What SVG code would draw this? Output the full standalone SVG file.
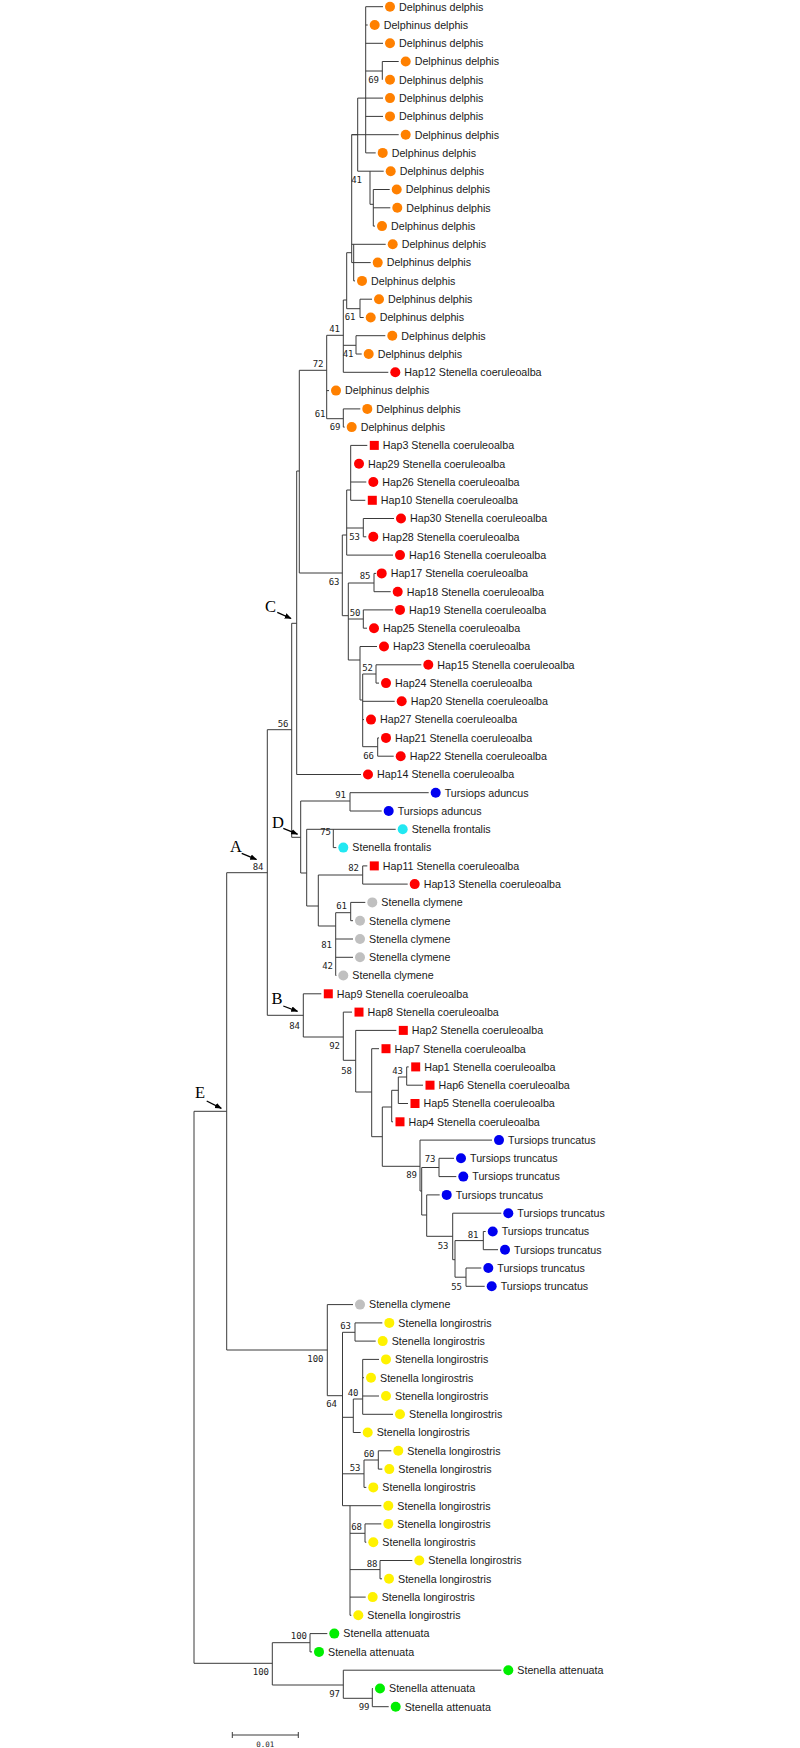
<svg xmlns="http://www.w3.org/2000/svg" width="800" height="1748" viewBox="0 0 800 1748">
<defs>
<marker id="ah" viewBox="0 0 10 10" refX="9" refY="5" markerWidth="7" markerHeight="7" orient="auto" markerUnits="userSpaceOnUse"><path d="M0,1 L10,5 L0,9 z" fill="#000"/></marker>
</defs>
<style>
.br{fill:none;stroke:#3a3a3a;stroke-width:1}
.tips text{font-family:"Liberation Sans",Arial,sans-serif;font-size:10.7px;fill:#1a1a1a}
.bs text{font-family:"DejaVu Sans Mono","Liberation Mono",monospace;font-size:9px;fill:#222;text-anchor:end}
.cl text{font-family:"Liberation Serif","Times New Roman",serif;font-size:16.5px;fill:#000}
.ar{stroke:#000;stroke-width:1.3;marker-end:url(#ah)}
.o{fill:#FF8000}.r{fill:#FF0000}.b{fill:#0000F0}.c{fill:#22E8F2}.g{fill:#C0C0C0}.y{fill:#FFF200}.gr{fill:#00EE00}
</style>
<rect width="800" height="1748" fill="#fff"/>
<g id="branches" class="br">
<path d="M365.7 6.7V152.9M382.3 61.5V79.8M365.7 71H382.3M357.7 98.1V171.2M370 171.2V204.3M370 204.3H373.3M373.3 189.5V226.1M351.7 134.7H357.7M351.7 134.7V262.6M353.7 244.3V280.9M346.7 252.7V308.7M346.7 252.7H351.7M346.7 308.7H360M360 299.2V317.5M343.3 300V372.3M343.3 300H346.7M343.3 345.3H356M356 335.7V354M326.7 335.3H343.3M326.7 335.3V418.7M326.7 418.7H343.3M343.3 408.9V427.1M299.3 370.3H326.7M299.3 370.3V573M299.3 573H342.3"/>
<path d="M350.7 445.4V500.3M346.7 490H350.7M346.7 490V555.1M346.7 528H363.3M363.3 518.5V536.8M342.3 535V615.7M342.3 535H346.7M342.3 615.7H348.3M348.3 583V660M348.3 583H374M374 573.4V591.7M348.3 619H363.3M363.3 609.9V628.2M348.3 660H360M360 646.5V700M360 700H362.7M362.7 674V746.7M362.7 674H376M376 664.8V683.1M362.7 746.7H377.7M377.7 737.9V756.2"/>
<path d="M296.7 471H299.3M296.7 471V774.5M291.7 623.3H296.7M291.7 623.3V837.3M267.3 729.7H291.7M291.7 837.3H300.7M300.7 801V873M300.7 801H350M350 792.7V811M300.7 873H306.7M306.7 829.3V906M333.3 829.3V847.6M306.7 906H318.3M318.3 875V926M318.3 875H362.7M362.7 865.9V884.1M318.3 926H335.7M335.7 912.7V975.5M335.7 912.7H350.7M350.7 902.4V920.7"/>
<path d="M267.3 729.7V1015.3M267.3 1015.3H303.3M226.7 872.7H267.3M303.3 993.8V1037M303.3 1037H343.3M343.3 1012.1V1060.3M343.3 1060.3H355.7M355.7 1030.4V1092M355.7 1092H371.7M371.7 1048.7V1136.7M371.7 1136.7H382.3M382.3 1107V1166.3M382.3 1107H391.7M391.7 1090.3V1121.8M391.7 1090.3H398.3M398.3 1077V1103.5M398.3 1077H406.7M406.7 1066.9V1085.2M382.3 1166.3H420M420 1140.1V1191M420 1191H421.7M421.7 1167.5V1215M421.7 1167.5H439M439 1158.3V1176.6M421.7 1215H426.7M426.7 1194.9V1236.3M426.7 1236.3H452.7M452.7 1213.2V1259.7M452.7 1259.7H455M455 1240.6V1277.2M455 1240.6H483.3M483.3 1231.5V1249.7M455 1277.2H466M466 1268V1286.3"/>
<path d="M226.7 872.7V1350M194 1111.3H226.7M226.7 1350H327.3M327.3 1304.6V1395.7M327.3 1395.7H342.5M342.5 1332.3V1505.7M342.5 1332.3H355M355 1322.9V1341.1M342.5 1417.3H353.3M353.3 1399V1432.5M353.3 1399H362.7M362.7 1359.4V1414.3M342.5 1473.8H364M364 1460V1487.4M364 1460H378.3M378.3 1450.8V1469.1M342.5 1505.7H350M350 1505.7V1615.3M350 1533.3H365M365 1523.9V1542.2M350 1569.6H380M380 1560.5V1578.8M194 1111.3V1663.3M194 1663.3H272.3M272.3 1642.7V1685M272.3 1642.7H310M310 1633.6V1651.9M272.3 1685H343.3M343.3 1670.2V1698.3M343.3 1698.3H372.3M372.3 1688.5V1706.7"/>
<path d="M365.7 6.7H383M365.7 25H367.7M365.7 43.3H383M382.3 61.5H398.7M357.7 98.1H383M365.7 116.4H383M351.7 134.7H398.7M365.7 152.9H375.7M357.7 171.2H383.7M373.3 189.5H389.7M373.3 207.8H390.3M373.3 226.1H375M351.7 244.3H385.7M351.7 262.6H370.7M353.7 280.9H355M360 299.2H372M360 317.5H363.7M356 335.7H385.3M356 354H361.7M343.3 372.3H388.3M326.7 390.6H329M343.3 408.9H360.3M343.3 427.1H344.7M350.7 445.4H367.3M350.7 482H366.3M350.7 500.3H365.3M363.3 518.5H394M363.3 536.8H366.3M346.7 555.1H393M374 573.4H376M374 591.7H390.7M363.3 609.9H393M363.3 628.2H367M360 646.5H377M376 664.8H421.3M376 683.1H379M362.7 701.3H394.7M362.7 719.6H364M377.7 737.9H379M377.7 756.2H393.7M296.7 774.5H361M350 792.7H428.7M350 811H381.7M306.7 829.3H395.7M333.3 847.6H336.3M362.7 865.9H367.3M362.7 884.1H407.7M350.7 902.4H365.3M350.7 920.7H353M335.7 939H353M335.7 957.3H353M335.7 975.5H336.3M303.3 993.8H321.3M343.3 1012.1H352M355.7 1030.4H396.3M371.7 1048.7H379M406.7 1066.9H408.7M406.7 1085.2H423M398.3 1103.5H408M391.7 1121.8H393M420 1140.1H492M439 1158.3H454M439 1176.6H456.3M426.7 1194.9H439.7M452.7 1213.2H501.3M483.3 1231.5H485.7M483.3 1249.7H498M466 1268H481.3M466 1286.3H484.7M327.3 1304.6H353M355 1322.9H382.3M355 1341.1H375.7M362.7 1359.4H379M362.7 1377.7H364M362.7 1396H379M362.7 1414.3H393M353.3 1432.5H360.7M378.3 1450.8H391.3M378.3 1469.1H382.3M364 1487.4H366.3M350 1505.7H381.3M365 1523.9H381.3M365 1542.2H366.3M380 1560.5H412.3M380 1578.8H382M350 1597.1H365.7M350 1615.3H351.3M310 1633.6H327.3M310 1651.9H312M343.3 1670.2H501.3M372.3 1688.5H373M372.3 1706.7H388.7"/>
</g>
<g id="bootstrap" class="bs">
<text x="379" y="83">69</text><text x="362" y="182.5">41</text><text x="355.5" y="320">61</text><text x="340" y="332">41</text><text x="353.5" y="357">41</text><text x="323.5" y="367">72</text><text x="325.5" y="417">61</text><text x="340.5" y="430">69</text>
<text x="360" y="540">53</text><text x="370.5" y="579">85</text><text x="339.5" y="584.5">63</text><text x="360.5" y="616">50</text><text x="373" y="670.5">52</text><text x="288.5" y="727">56</text><text x="374" y="759">66</text>
<text x="346" y="798">91</text><text x="331" y="835">75</text><text x="263.5" y="870">84</text><text x="359" y="871">82</text><text x="347" y="909">61</text><text x="332" y="947.5">81</text><text x="333" y="969">42</text>
<text x="300" y="1028.5">84</text><text x="340" y="1048.5">92</text><text x="352" y="1073.5">58</text><text x="403" y="1073.5">43</text><text x="435.5" y="1162">73</text><text x="417" y="1178">89</text><text x="478.5" y="1238">81</text><text x="448.5" y="1248.5">53</text><text x="462" y="1289.5">55</text>
<text x="351" y="1329">63</text><text x="323.5" y="1362">100</text><text x="358.5" y="1395.5">40</text><text x="337" y="1407">64</text><text x="374.5" y="1457">60</text><text x="360.5" y="1470.5">53</text><text x="362" y="1530">68</text><text x="377.5" y="1566.5">88</text>
<text x="307" y="1639">100</text><text x="269" y="1675">100</text><text x="340" y="1696.5">97</text><text x="369.5" y="1710">99</text>
</g>
<g id="clade-labels" class="cl">
<text x="265" y="612">C</text><line class="ar" x1="277.3" y1="612.3" x2="291" y2="618.5"/>
<text x="272" y="828">D</text><line class="ar" x1="283.3" y1="828.3" x2="297.5" y2="834.2"/>
<text x="230" y="852">A</text><line class="ar" x1="241.7" y1="853.3" x2="256.5" y2="859.5"/>
<text x="271.5" y="1003.5">B</text><line class="ar" x1="283.3" y1="1006" x2="297.5" y2="1011.3"/>
<text x="195" y="1098">E</text><line class="ar" x1="206.7" y1="1101" x2="221.3" y2="1108.3"/>
</g>
<g class="tips">
<g id="t0"><circle class="o" cx="390" cy="6.7" r="5"/><text x="399" y="10.5">Delphinus delphis</text></g>
<g id="t1"><circle class="o" cx="374.7" cy="25" r="5"/><text x="383.7" y="28.8">Delphinus delphis</text></g>
<g id="t2"><circle class="o" cx="390" cy="43.3" r="5"/><text x="399" y="47.1">Delphinus delphis</text></g>
<g id="t3"><circle class="o" cx="405.7" cy="61.5" r="5"/><text x="414.7" y="65.3">Delphinus delphis</text></g>
<g id="t4"><circle class="o" cx="390" cy="79.8" r="5"/><text x="399" y="83.6">Delphinus delphis</text></g>
<g id="t5"><circle class="o" cx="390" cy="98.1" r="5"/><text x="399" y="101.9">Delphinus delphis</text></g>
<g id="t6"><circle class="o" cx="390" cy="116.4" r="5"/><text x="399" y="120.2">Delphinus delphis</text></g>
<g id="t7"><circle class="o" cx="405.7" cy="134.7" r="5"/><text x="414.7" y="138.5">Delphinus delphis</text></g>
<g id="t8"><circle class="o" cx="382.7" cy="152.9" r="5"/><text x="391.7" y="156.7">Delphinus delphis</text></g>
<g id="t9"><circle class="o" cx="390.7" cy="171.2" r="5"/><text x="399.7" y="175">Delphinus delphis</text></g>
<g id="t10"><circle class="o" cx="396.7" cy="189.5" r="5"/><text x="405.7" y="193.3">Delphinus delphis</text></g>
<g id="t11"><circle class="o" cx="397.3" cy="207.8" r="5"/><text x="406.3" y="211.6">Delphinus delphis</text></g>
<g id="t12"><circle class="o" cx="382" cy="226.1" r="5"/><text x="391" y="229.9">Delphinus delphis</text></g>
<g id="t13"><circle class="o" cx="392.7" cy="244.3" r="5"/><text x="401.7" y="248.1">Delphinus delphis</text></g>
<g id="t14"><circle class="o" cx="377.7" cy="262.6" r="5"/><text x="386.7" y="266.4">Delphinus delphis</text></g>
<g id="t15"><circle class="o" cx="362" cy="280.9" r="5"/><text x="371" y="284.7">Delphinus delphis</text></g>
<g id="t16"><circle class="o" cx="379" cy="299.2" r="5"/><text x="388" y="303">Delphinus delphis</text></g>
<g id="t17"><circle class="o" cx="370.7" cy="317.5" r="5"/><text x="379.7" y="321.3">Delphinus delphis</text></g>
<g id="t18"><circle class="o" cx="392.3" cy="335.7" r="5"/><text x="401.3" y="339.5">Delphinus delphis</text></g>
<g id="t19"><circle class="o" cx="368.7" cy="354" r="5"/><text x="377.7" y="357.8">Delphinus delphis</text></g>
<g id="t20"><circle class="r" cx="395.3" cy="372.3" r="5"/><text x="404.3" y="376.1">Hap12 Stenella coeruleoalba</text></g>
<g id="t21"><circle class="o" cx="336" cy="390.6" r="5"/><text x="345" y="394.4">Delphinus delphis</text></g>
<g id="t22"><circle class="o" cx="367.3" cy="408.9" r="5"/><text x="376.3" y="412.7">Delphinus delphis</text></g>
<g id="t23"><circle class="o" cx="351.7" cy="427.1" r="5"/><text x="360.7" y="430.9">Delphinus delphis</text></g>
<g id="t24"><rect class="r" x="369.8" y="440.9" width="9" height="9"/><text x="382.8" y="449.2">Hap3 Stenella coeruleoalba</text></g>
<g id="t25"><circle class="r" cx="359" cy="463.7" r="5"/><text x="368" y="467.5">Hap29 Stenella coeruleoalba</text></g>
<g id="t26"><circle class="r" cx="373.3" cy="482" r="5"/><text x="382.3" y="485.8">Hap26 Stenella coeruleoalba</text></g>
<g id="t27"><rect class="r" x="367.8" y="495.8" width="9" height="9"/><text x="380.8" y="504.1">Hap10 Stenella coeruleoalba</text></g>
<g id="t28"><circle class="r" cx="401" cy="518.5" r="5"/><text x="410" y="522.3">Hap30 Stenella coeruleoalba</text></g>
<g id="t29"><circle class="r" cx="373.3" cy="536.8" r="5"/><text x="382.3" y="540.6">Hap28 Stenella coeruleoalba</text></g>
<g id="t30"><circle class="r" cx="400" cy="555.1" r="5"/><text x="409" y="558.9">Hap16 Stenella coeruleoalba</text></g>
<g id="t31"><circle class="r" cx="381.7" cy="573.4" r="5"/><text x="390.7" y="577.2">Hap17 Stenella coeruleoalba</text></g>
<g id="t32"><circle class="r" cx="397.7" cy="591.7" r="5"/><text x="406.7" y="595.5">Hap18 Stenella coeruleoalba</text></g>
<g id="t33"><circle class="r" cx="400" cy="609.9" r="5"/><text x="409" y="613.7">Hap19 Stenella coeruleoalba</text></g>
<g id="t34"><circle class="r" cx="374" cy="628.2" r="5"/><text x="383" y="632">Hap25 Stenella coeruleoalba</text></g>
<g id="t35"><circle class="r" cx="384" cy="646.5" r="5"/><text x="393" y="650.3">Hap23 Stenella coeruleoalba</text></g>
<g id="t36"><circle class="r" cx="428.3" cy="664.8" r="5"/><text x="437.3" y="668.6">Hap15 Stenella coeruleoalba</text></g>
<g id="t37"><circle class="r" cx="386" cy="683.1" r="5"/><text x="395" y="686.9">Hap24 Stenella coeruleoalba</text></g>
<g id="t38"><circle class="r" cx="401.7" cy="701.3" r="5"/><text x="410.7" y="705.1">Hap20 Stenella coeruleoalba</text></g>
<g id="t39"><circle class="r" cx="371" cy="719.6" r="5"/><text x="380" y="723.4">Hap27 Stenella coeruleoalba</text></g>
<g id="t40"><circle class="r" cx="386" cy="737.9" r="5"/><text x="395" y="741.7">Hap21 Stenella coeruleoalba</text></g>
<g id="t41"><circle class="r" cx="400.7" cy="756.2" r="5"/><text x="409.7" y="760">Hap22 Stenella coeruleoalba</text></g>
<g id="t42"><circle class="r" cx="368" cy="774.5" r="5"/><text x="377" y="778.3">Hap14 Stenella coeruleoalba</text></g>
<g id="t43"><circle class="b" cx="435.7" cy="792.7" r="5"/><text x="444.7" y="796.5">Tursiops aduncus</text></g>
<g id="t44"><circle class="b" cx="388.7" cy="811" r="5"/><text x="397.7" y="814.8">Tursiops aduncus</text></g>
<g id="t45"><circle class="c" cx="402.7" cy="829.3" r="5"/><text x="411.7" y="833.1">Stenella frontalis</text></g>
<g id="t46"><circle class="c" cx="343.3" cy="847.6" r="5"/><text x="352.3" y="851.4">Stenella frontalis</text></g>
<g id="t47"><rect class="r" x="369.8" y="861.4" width="9" height="9"/><text x="382.8" y="869.7">Hap11 Stenella coeruleoalba</text></g>
<g id="t48"><circle class="r" cx="414.7" cy="884.1" r="5"/><text x="423.7" y="887.9">Hap13 Stenella coeruleoalba</text></g>
<g id="t49"><circle class="g" cx="372.3" cy="902.4" r="5"/><text x="381.3" y="906.2">Stenella clymene</text></g>
<g id="t50"><circle class="g" cx="360" cy="920.7" r="5"/><text x="369" y="924.5">Stenella clymene</text></g>
<g id="t51"><circle class="g" cx="360" cy="939" r="5"/><text x="369" y="942.8">Stenella clymene</text></g>
<g id="t52"><circle class="g" cx="360" cy="957.3" r="5"/><text x="369" y="961.1">Stenella clymene</text></g>
<g id="t53"><circle class="g" cx="343.3" cy="975.5" r="5"/><text x="352.3" y="979.3">Stenella clymene</text></g>
<g id="t54"><rect class="r" x="323.8" y="989.3" width="9" height="9"/><text x="336.8" y="997.6">Hap9 Stenella coeruleoalba</text></g>
<g id="t55"><rect class="r" x="354.5" y="1007.6" width="9" height="9"/><text x="367.5" y="1015.9">Hap8 Stenella coeruleoalba</text></g>
<g id="t56"><rect class="r" x="398.8" y="1025.9" width="9" height="9"/><text x="411.8" y="1034.2">Hap2 Stenella coeruleoalba</text></g>
<g id="t57"><rect class="r" x="381.5" y="1044.2" width="9" height="9"/><text x="394.5" y="1052.5">Hap7 Stenella coeruleoalba</text></g>
<g id="t58"><rect class="r" x="411.2" y="1062.4" width="9" height="9"/><text x="424.2" y="1070.7">Hap1 Stenella coeruleoalba</text></g>
<g id="t59"><rect class="r" x="425.5" y="1080.7" width="9" height="9"/><text x="438.5" y="1089">Hap6 Stenella coeruleoalba</text></g>
<g id="t60"><rect class="r" x="410.5" y="1099" width="9" height="9"/><text x="423.5" y="1107.3">Hap5 Stenella coeruleoalba</text></g>
<g id="t61"><rect class="r" x="395.5" y="1117.3" width="9" height="9"/><text x="408.5" y="1125.6">Hap4 Stenella coeruleoalba</text></g>
<g id="t62"><circle class="b" cx="499" cy="1140.1" r="5"/><text x="508" y="1143.9">Tursiops truncatus</text></g>
<g id="t63"><circle class="b" cx="461" cy="1158.3" r="5"/><text x="470" y="1162.1">Tursiops truncatus</text></g>
<g id="t64"><circle class="b" cx="463.3" cy="1176.6" r="5"/><text x="472.3" y="1180.4">Tursiops truncatus</text></g>
<g id="t65"><circle class="b" cx="446.7" cy="1194.9" r="5"/><text x="455.7" y="1198.7">Tursiops truncatus</text></g>
<g id="t66"><circle class="b" cx="508.3" cy="1213.2" r="5"/><text x="517.3" y="1217">Tursiops truncatus</text></g>
<g id="t67"><circle class="b" cx="492.7" cy="1231.5" r="5"/><text x="501.7" y="1235.3">Tursiops truncatus</text></g>
<g id="t68"><circle class="b" cx="505" cy="1249.7" r="5"/><text x="514" y="1253.5">Tursiops truncatus</text></g>
<g id="t69"><circle class="b" cx="488.3" cy="1268" r="5"/><text x="497.3" y="1271.8">Tursiops truncatus</text></g>
<g id="t70"><circle class="b" cx="491.7" cy="1286.3" r="5"/><text x="500.7" y="1290.1">Tursiops truncatus</text></g>
<g id="t71"><circle class="g" cx="360" cy="1304.6" r="5"/><text x="369" y="1308.4">Stenella clymene</text></g>
<g id="t72"><circle class="y" cx="389.3" cy="1322.9" r="5"/><text x="398.3" y="1326.7">Stenella longirostris</text></g>
<g id="t73"><circle class="y" cx="382.7" cy="1341.1" r="5"/><text x="391.7" y="1344.9">Stenella longirostris</text></g>
<g id="t74"><circle class="y" cx="386" cy="1359.4" r="5"/><text x="395" y="1363.2">Stenella longirostris</text></g>
<g id="t75"><circle class="y" cx="371" cy="1377.7" r="5"/><text x="380" y="1381.5">Stenella longirostris</text></g>
<g id="t76"><circle class="y" cx="386" cy="1396" r="5"/><text x="395" y="1399.8">Stenella longirostris</text></g>
<g id="t77"><circle class="y" cx="400" cy="1414.3" r="5"/><text x="409" y="1418.1">Stenella longirostris</text></g>
<g id="t78"><circle class="y" cx="367.7" cy="1432.5" r="5"/><text x="376.7" y="1436.3">Stenella longirostris</text></g>
<g id="t79"><circle class="y" cx="398.3" cy="1450.8" r="5"/><text x="407.3" y="1454.6">Stenella longirostris</text></g>
<g id="t80"><circle class="y" cx="389.3" cy="1469.1" r="5"/><text x="398.3" y="1472.9">Stenella longirostris</text></g>
<g id="t81"><circle class="y" cx="373.3" cy="1487.4" r="5"/><text x="382.3" y="1491.2">Stenella longirostris</text></g>
<g id="t82"><circle class="y" cx="388.3" cy="1505.7" r="5"/><text x="397.3" y="1509.5">Stenella longirostris</text></g>
<g id="t83"><circle class="y" cx="388.3" cy="1523.9" r="5"/><text x="397.3" y="1527.7">Stenella longirostris</text></g>
<g id="t84"><circle class="y" cx="373.3" cy="1542.2" r="5"/><text x="382.3" y="1546">Stenella longirostris</text></g>
<g id="t85"><circle class="y" cx="419.3" cy="1560.5" r="5"/><text x="428.3" y="1564.3">Stenella longirostris</text></g>
<g id="t86"><circle class="y" cx="389" cy="1578.8" r="5"/><text x="398" y="1582.6">Stenella longirostris</text></g>
<g id="t87"><circle class="y" cx="372.7" cy="1597.1" r="5"/><text x="381.7" y="1600.9">Stenella longirostris</text></g>
<g id="t88"><circle class="y" cx="358.3" cy="1615.3" r="5"/><text x="367.3" y="1619.1">Stenella longirostris</text></g>
<g id="t89"><circle class="gr" cx="334.3" cy="1633.6" r="5"/><text x="343.3" y="1637.4">Stenella attenuata</text></g>
<g id="t90"><circle class="gr" cx="319" cy="1651.9" r="5"/><text x="328" y="1655.7">Stenella attenuata</text></g>
<g id="t91"><circle class="gr" cx="508.3" cy="1670.2" r="5"/><text x="517.3" y="1674">Stenella attenuata</text></g>
<g id="t92"><circle class="gr" cx="380" cy="1688.5" r="5"/><text x="389" y="1692.3">Stenella attenuata</text></g>
<g id="t93"><circle class="gr" cx="395.7" cy="1706.7" r="5"/><text x="404.7" y="1710.5">Stenella attenuata</text></g>
</g>
<g id="scale-bar">
<path class="br" d="M232.3 1735H298.3M232.3 1732V1738M298.3 1732V1738"/>
<text x="265.3" y="1746.5" text-anchor="middle" font-family="DejaVu Sans Mono, Liberation Mono, monospace" font-size="7.5" fill="#222">0.01</text>
</g>
</svg>
